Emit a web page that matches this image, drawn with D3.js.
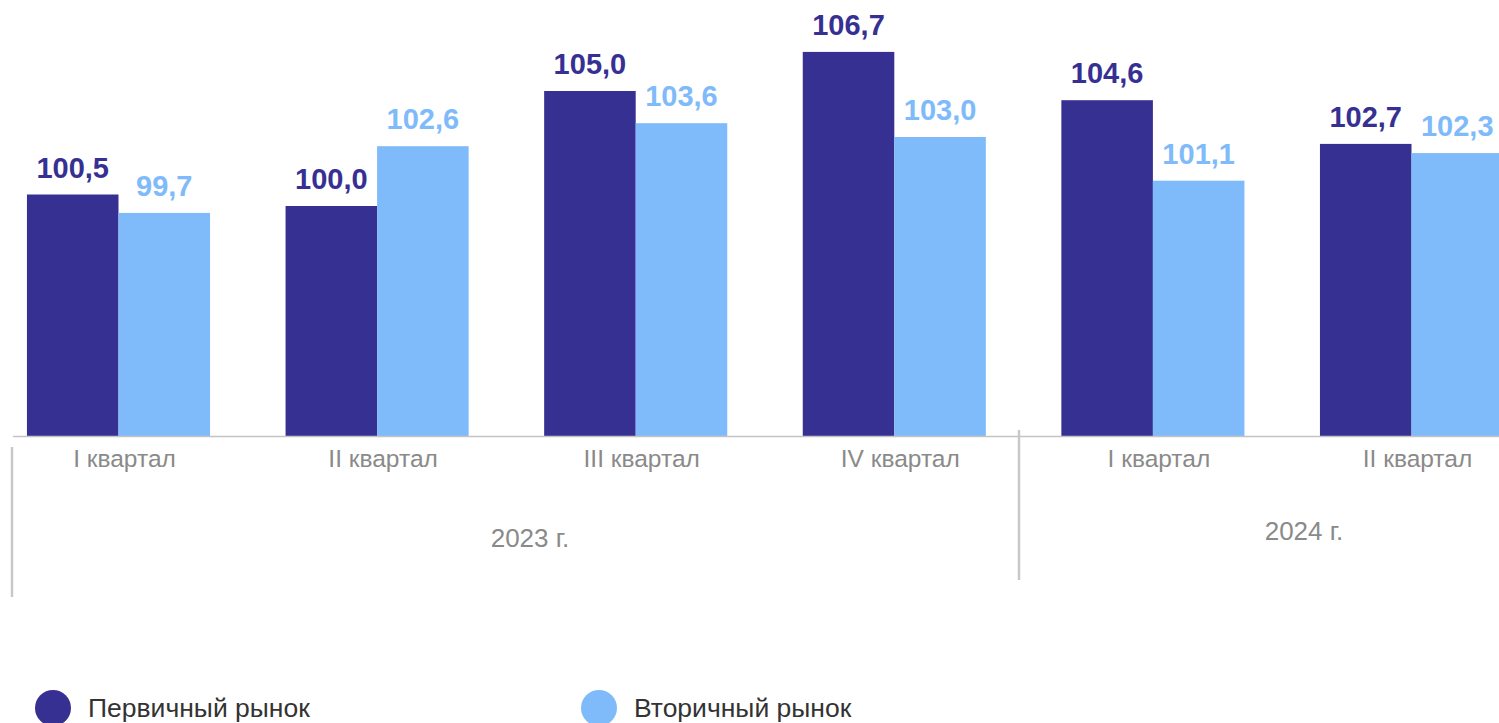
<!DOCTYPE html>
<html>
<head>
<meta charset="utf-8">
<script src="https://cdn.jsdelivr.net/npm/d3@7"></script>
<style>
  body { margin: 0; background: #fff; }
  svg { display: block; font-family: "Liberation Sans", Arial, sans-serif; }
</style>
</head>
<body>
<div id="chart"></div>
<script>
// данные
const quarters = ['I квартал', 'II квартал', 'III квартал', 'IV квартал', 'I квартал', 'II квартал'];
const years = ['2023 г.', '2024 г.'];
const seriesNames = ['Первичный рынок', 'Вторичный рынок'];
const primary = [100.5, 100.0, 105.0, 106.7, 104.6, 102.7];
const secondary = [99.7, 102.6, 103.6, 103.0, 101.1, 102.3];

const colors = ['#373093', '#7fbbfa'];
const width = 1499, height = 723;

const svg = d3.select('#chart').append('svg')
  .attr('width', width)
  .attr('height', height);

const x = d3.scaleBand()
  .domain(d3.range(quarters.length))
  .range([-10.8, 1540.8])
  .paddingInner(0.292)
  .paddingOuter(0.146);

const xInner = d3.scaleBand()
  .domain([0, 1])
  .range([0, x.bandwidth()]);

const y = d3.scaleLinear()
  .domain([90, 108])
  .range([436, 22]);

const fmt = v => d3.format('.1f')(v).replace('.', ',');

const rows = quarters.map((q, i) => ({ i, vals: [primary[i], secondary[i]] }));

const groups = svg.selectAll('g.grp')
  .data(rows)
  .enter().append('g')
  .attr('class', 'grp')
  .attr('transform', d => `translate(${x(d.i)},0)`);

groups.selectAll('rect')
  .data(d => d.vals.map((v, k) => ({ v, k })))
  .enter().append('rect')
  .attr('x', d => xInner(d.k))
  .attr('y', d => y(d.v))
  .attr('width', xInner.bandwidth())
  .attr('height', d => y(90) - y(d.v))
  .attr('fill', d => colors[d.k]);

groups.selectAll('text.val')
  .data(d => d.vals.map((v, k) => ({ v, k })))
  .enter().append('text')
  .attr('class', 'val')
  .attr('x', d => xInner(d.k) + xInner.bandwidth() / 2)
  .attr('y', d => y(d.v) - 17)
  .attr('text-anchor', 'middle')
  .attr('font-size', '29px')
  .attr('font-weight', 'bold')
  .attr('fill', d => colors[d.k])
  .text(d => fmt(d.v));

// ось
svg.append('line')
  .attr('x1', 13).attr('x2', width)
  .attr('y1', y(90) + 0.5).attr('y2', y(90) + 0.5)
  .attr('stroke', '#c4c4c4')
  .attr('stroke-width', 1.5);

// подписи кварталов
svg.selectAll('text.cat')
  .data(quarters)
  .enter().append('text')
  .attr('class', 'cat')
  .attr('x', (d, i) => x(i) + x.bandwidth() / 2 + 6)
  .attr('y', 467)
  .attr('text-anchor', 'middle')
  .attr('font-size', '24.5px')
  .attr('fill', '#8a8a8a')
  .text(d => d);

// разделители
svg.append('line')
  .attr('x1', 12).attr('x2', 12)
  .attr('y1', 447).attr('y2', 597)
  .attr('stroke', '#c8c8c8').attr('stroke-width', 2.5);
svg.append('line')
  .attr('x1', 1019).attr('x2', 1019)
  .attr('y1', 430).attr('y2', 580)
  .attr('stroke', '#c8c8c8').attr('stroke-width', 2.5);

// годы
svg.append('text')
  .attr('x', 530).attr('y', 547)
  .attr('text-anchor', 'middle')
  .attr('font-size', '26px')
  .attr('fill', '#8a8a8a')
  .text(years[0]);
svg.append('text')
  .attr('x', 1304).attr('y', 540)
  .attr('text-anchor', 'middle')
  .attr('font-size', '26px')
  .attr('fill', '#8a8a8a')
  .text(years[1]);

// легенда
const legend = svg.selectAll('g.leg')
  .data(seriesNames)
  .enter().append('g')
  .attr('class', 'leg')
  .attr('transform', (d, i) => `translate(${53 + i * 546},708)`);

legend.append('circle')
  .attr('r', 18)
  .attr('fill', (d, i) => colors[i]);

legend.append('text')
  .attr('x', 35)
  .attr('y', 9)
  .attr('font-size', '26.5px')
  .attr('fill', '#333')
  .text(d => d);
</script>
</body>
</html>
